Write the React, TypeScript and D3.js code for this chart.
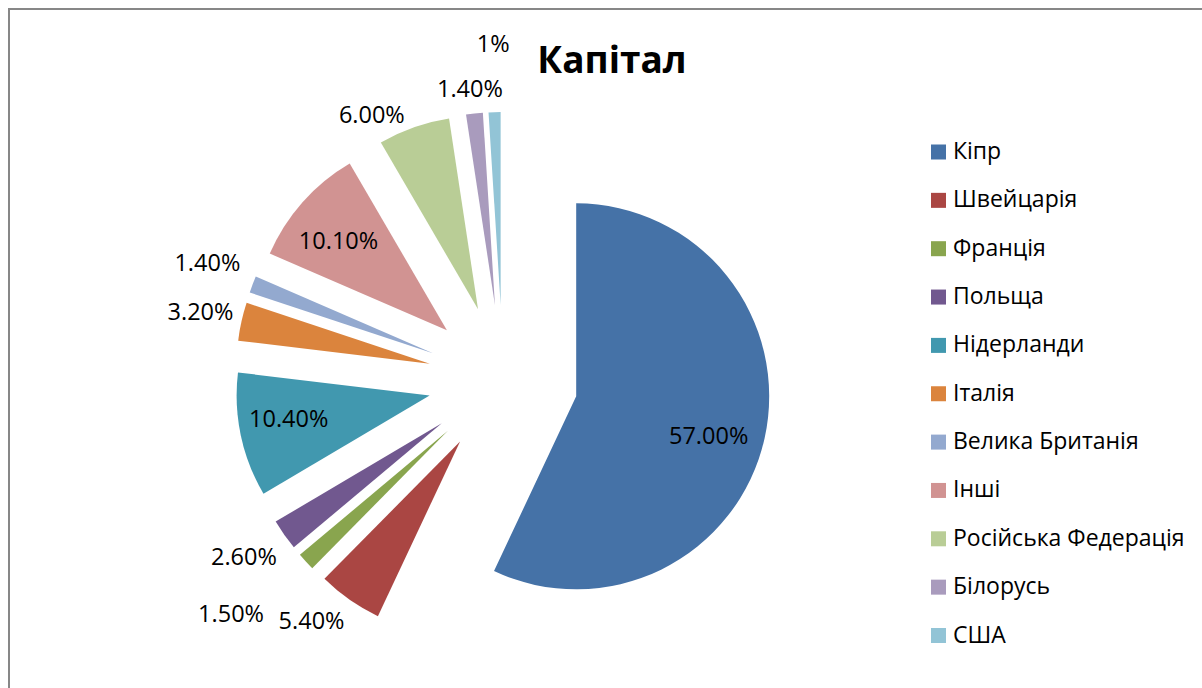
import React, { useRef, useEffect } from 'react';
import * as d3 from 'd3';

// chart data
const countries = ['Кіпр', 'Швейцарія', 'Франція', 'Польща', 'Нідерланди', 'Італія', 'Велика Британія', 'Інші', 'Російська Федерація', 'Білорусь', 'США'];
const shares = [57.0, 5.4, 1.5, 2.6, 10.4, 3.2, 1.4, 10.1, 6.0, 1.4, 1.0];
const shareLabels = ['57.00%', '5.40%', '1.50%', '2.60%', '10.40%', '3.20%', '1.40%', '10.10%', '6.00%', '1.40%', '1%'];
const colors = ['#4572A7', '#AA4643', '#89A54E', '#71588F', '#4198AF', '#DB843D', '#93A9CF', '#D19392', '#B9CD96', '#A99BBD', '#92C4D6'];

// which labels sit inside their slice, and small nudges like Excel's collision fixes
const insideLabel = [true, false, false, false, true, false, false, true, false, false, false];
const labelNudge = [[-5, 8], [-14, -14], [-44, 23], [-6, -3], [-3, -6], [0, -1], [-6, -7], [-3, 4], [-28, 27], [0, 17], [0, -27]];

const FONT = "'Open Sans', 'Noto Sans', sans-serif";

const ExplodedPie = ({ width, height }) => {
  const chartRef = useRef(null);

  useEffect(() => {
    const cx = 503;
    const cy = 380;
    const radius = 193;
    const explode = 75;

    d3.select(chartRef.current).selectAll('*').remove();

    const svg = d3.select(chartRef.current)
      .append('svg')
      .attr('width', width)
      .attr('height', height)
      .style('position', 'fixed')
      .style('left', '0px')
      .style('top', '0px')
      .style('background', '#fff');

    // chart area frame
    svg.append('rect')
      .attr('x', 9)
      .attr('y', 9)
      .attr('width', width + 20)
      .attr('height', height + 20)
      .attr('fill', 'none')
      .attr('stroke', '#878787')
      .attr('stroke-width', 2);

    // title
    svg.append('text')
      .attr('x', 612)
      .attr('y', 73)
      .attr('text-anchor', 'middle')
      .style('font-family', FONT)
      .style('font-weight', 700)
      .style('font-size', '37px')
      .text('Капітал');

    const pie = d3.pie<number>().sort(null).value(d => d);
    const arcs = pie(shares);
    const arc = d3.arc<d3.PieArcDatum<number>>().innerRadius(0).outerRadius(radius);

    const dirOf = (a) => {
      const mid = (a.startAngle + a.endAngle) / 2;
      return [Math.sin(mid), -Math.cos(mid)];
    };

    const g = svg.append('g').attr('transform', `translate(${cx},${cy})`);

    g.selectAll('.slice')
      .data(arcs)
      .enter()
      .append('path')
      .attr('class', 'slice')
      .attr('d', arc)
      .attr('fill', (d, i) => colors[i])
      .attr('transform', d => {
        const [dx, dy] = dirOf(d);
        return `translate(${dx * explode},${dy * explode})`;
      });

    // percentage labels
    g.selectAll('.lbl')
      .data(arcs)
      .enter()
      .append('text')
      .attr('class', 'lbl')
      .attr('x', (d, i) => {
        const [dx] = dirOf(d);
        const dist = insideLabel[i] ? explode + radius * 0.73 : explode + radius + 42;
        return dx * dist + labelNudge[i][0];
      })
      .attr('y', (d, i) => {
        const [, dy] = dirOf(d);
        const dist = insideLabel[i] ? explode + radius * 0.73 : explode + radius + 42;
        return dy * dist + labelNudge[i][1];
      })
      .attr('dy', '0.36em')
      .attr('text-anchor', 'middle')
      .style('font-family', FONT)
      .style('font-size', '23.5px')
      .attr('fill', '#000')
      .text((d, i) => shareLabels[i]);

    // legend
    const legendY = d3.scaleLinear().domain([0, countries.length - 1]).range([159, 642.5]);
    const legend = svg.append('g');
    const rows = legend.selectAll('.row')
      .data(countries)
      .enter()
      .append('g')
      .attr('class', 'row')
      .attr('transform', (d, i) => `translate(931,${legendY(i)})`);

    rows.append('rect')
      .attr('x', 0)
      .attr('y', -14.5)
      .attr('width', 15)
      .attr('height', 15)
      .attr('fill', (d, i) => colors[i]);

    rows.append('text')
      .attr('x', 22)
      .attr('y', 0)
      .style('font-family', FONT)
      .style('font-size', '23px')
      .attr('fill', '#000')
      .text(d => d);
  }, [width, height]);

  return <div ref={chartRef}></div>;
};

export default function App() {
  return <ExplodedPie width={1202} height={688} />;
}
